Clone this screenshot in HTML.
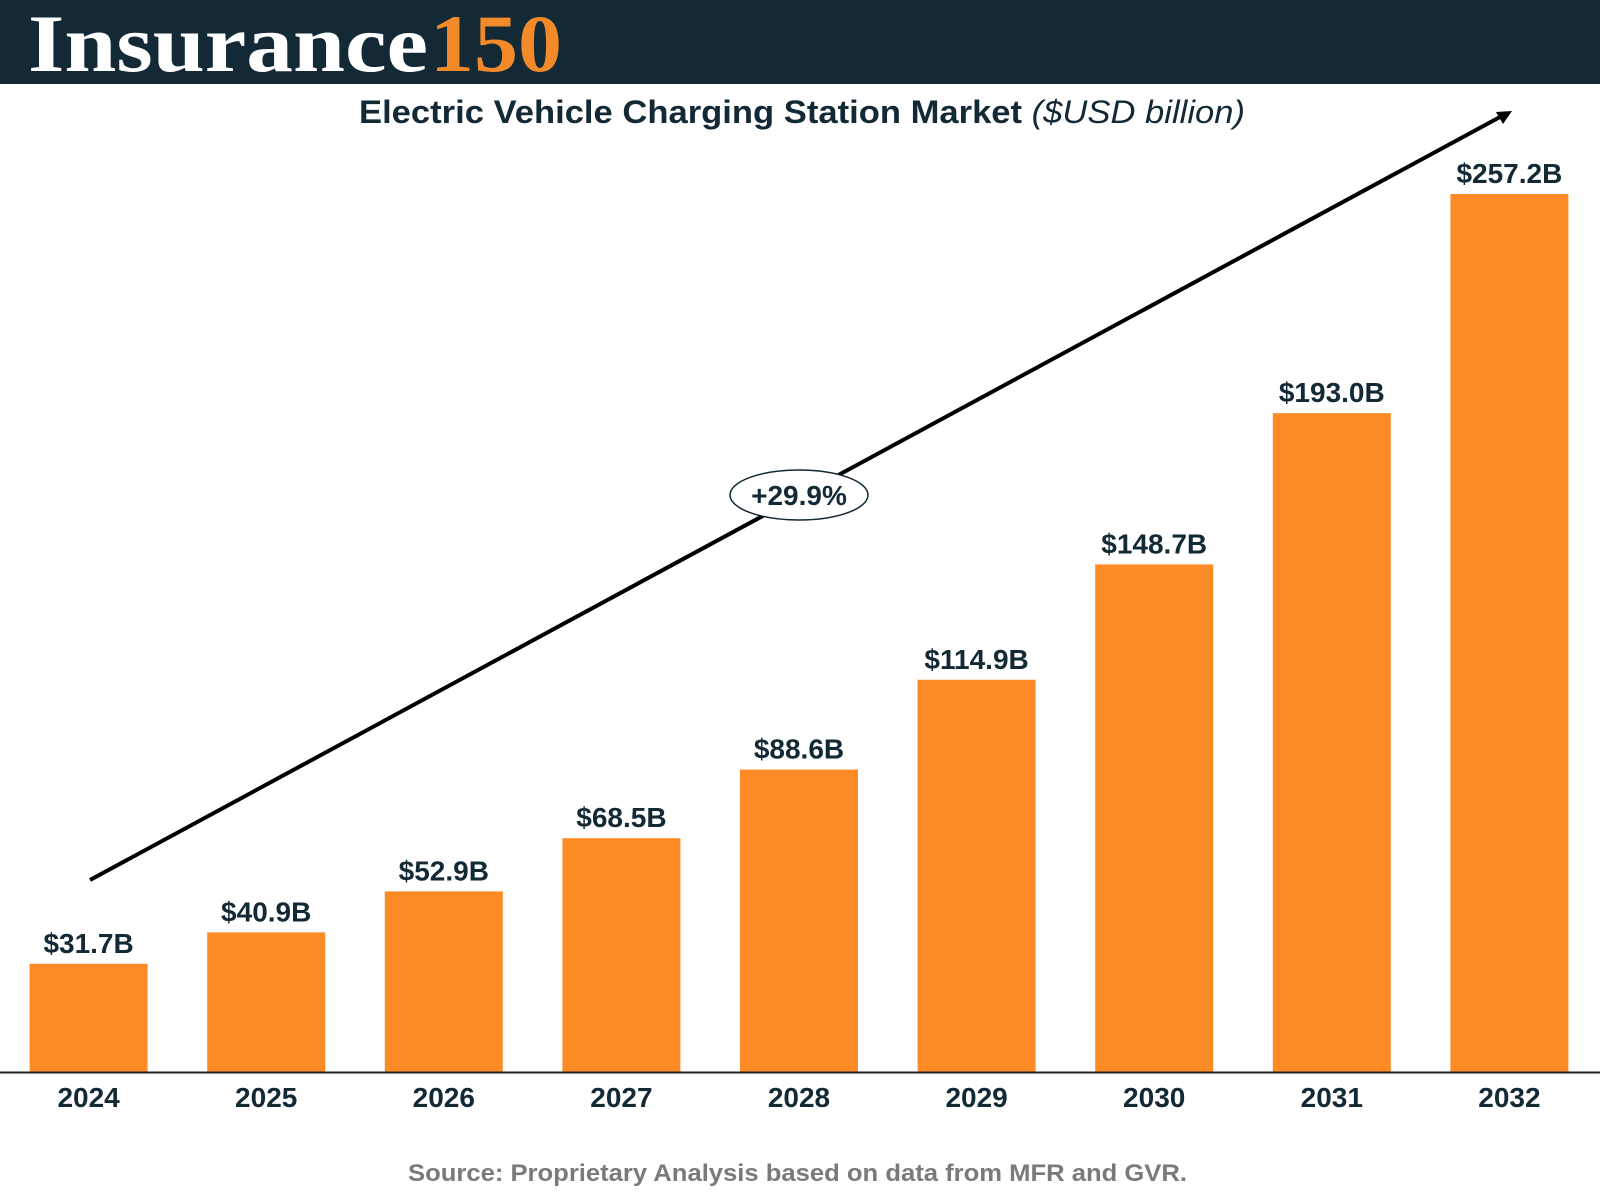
<!DOCTYPE html>
<html><head><meta charset="utf-8">
<style>
html,body{margin:0;padding:0;background:#fff;}
svg{display:block;}
text{font-family:"Liberation Sans",sans-serif;}
</style></head>
<body>
<svg id="chart" width="1600" height="1200" viewBox="0 0 1600 1200" xmlns="http://www.w3.org/2000/svg">
  <rect x="0" y="0" width="1600" height="84" fill="#132935"/>
  <text x="28" y="71" font-weight="bold" font-size="82" fill="#fff" textLength="400" lengthAdjust="spacingAndGlyphs" style="font-family:'Liberation Serif',serif">Insurance</text>
  <text x="430" y="71" font-weight="bold" font-size="82" fill="#f28a2a" textLength="132" lengthAdjust="spacingAndGlyphs" style="font-family:'Liberation Serif',serif">150</text>
  <text x="359" y="123" font-size="32" fill="#132935" textLength="886" lengthAdjust="spacingAndGlyphs"><tspan font-weight="bold">Electric Vehicle Charging Station Market</tspan> <tspan font-style="italic">($USD billion)</tspan></text>
  <g id="bars"></g>
  <line x1="0" y1="1072.5" x2="1600" y2="1072.5" stroke="#222" stroke-width="2"/>
  <line x1="90" y1="880" x2="1500" y2="117" stroke="#000" stroke-width="4"/>
  <polygon points="1512,111 1496,112 1503,124" fill="#000"/>
  <ellipse cx="799" cy="495" rx="69" ry="25" fill="#fff" stroke="#132935" stroke-width="1.5"/>
  <text x="799" y="505" text-anchor="middle" font-size="28" font-weight="bold" fill="#132935">+29.9%</text>
  <text x="408" y="1181" font-size="24" font-weight="bold" fill="#7a7a7a" textLength="779" lengthAdjust="spacingAndGlyphs">Source: Proprietary Analysis based on data from MFR and GVR.</text>
</svg>
<script>
const years = ["2024","2025","2026","2027","2028","2029","2030","2031","2032"];
const values = [31.7, 40.9, 52.9, 68.5, 88.6, 114.9, 148.7, 193.0, 257.2];
const valueLabels = ["$31.7B","$40.9B","$52.9B","$68.5B","$88.6B","$114.9B","$148.7B","$193.0B","$257.2B"];

const NS = "http://www.w3.org/2000/svg";
const baseY = 1072, pxPerUnit = 878 / 257.2;
const x0 = 29.6, step = 177.6, bw = 118;
function xPos(i){ return x0 + i * step; }
function yPos(v){ return baseY - v * pxPerUnit; }
const g = document.getElementById('bars');
years.forEach((yr, i) => {
  const v = values[i];
  const r = document.createElementNS(NS, 'rect');
  r.setAttribute('x', xPos(i));
  r.setAttribute('y', yPos(v));
  r.setAttribute('width', bw);
  r.setAttribute('height', baseY - yPos(v));
  r.setAttribute('fill', '#fd8b25');
  
  
  g.appendChild(r);
  const t = document.createElementNS(NS, 'text');
  t.setAttribute('x', xPos(i) + bw / 2);
  t.setAttribute('y', yPos(v) - 11);
  t.setAttribute('text-anchor', 'middle');
  t.setAttribute('font-size', '28');
  t.setAttribute('font-weight', 'bold');
  t.setAttribute('fill', '#132935');
  t.textContent = valueLabels[i];
  
  
  g.appendChild(t);
  const yl = document.createElementNS(NS, 'text');
  yl.setAttribute('x', xPos(i) + bw / 2);
  yl.setAttribute('y', 1107);
  yl.setAttribute('text-anchor', 'middle');
  yl.setAttribute('font-size', '28');
  yl.setAttribute('font-weight', 'bold');
  yl.setAttribute('fill', '#132935');
  yl.textContent = yr;
  
  
  g.appendChild(yl);
});
</script>
</body></html>
